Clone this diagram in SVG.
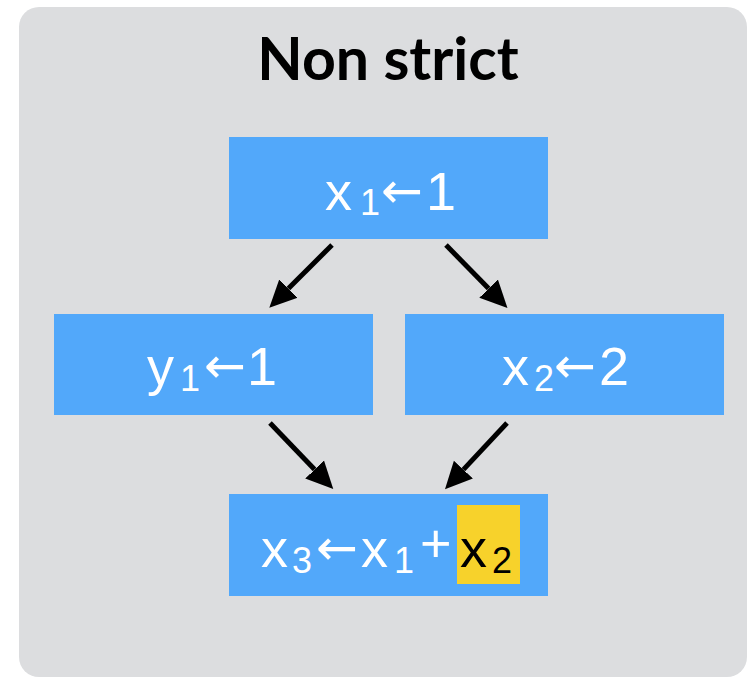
<svg xmlns="http://www.w3.org/2000/svg" width="747" height="677" viewBox="0 0 747 677">
<defs>
<style>
.node{fill:#52A8FA}
.t{font-family:"Liberation Sans",Arial,sans-serif;fill:#fff;font-size:54px}
.s{font-size:36px}
.a{font-family:"DejaVu Sans",sans-serif;font-size:50px}
.edge{stroke:#000;stroke-width:5;fill:none}
</style>
<marker id="ah" markerUnits="userSpaceOnUse" markerWidth="28" markerHeight="28" refX="0" refY="13" orient="auto" viewBox="0 0 28 26">
<path d="M0,0 L27,13 L0,26 z" fill="#000"/>
</marker>
</defs>
<rect x="19" y="7" width="728" height="670" rx="20" fill="#DCDDDF"/>
<text x="388" y="80" text-anchor="middle" font-family="Lato,'Liberation Sans',sans-serif" font-weight="bold" font-size="59" fill="#000">Non strict</text>
<g id="n1">
<rect class="node" x="229" y="137" width="319" height="102"/>
<text class="t" y="210"><tspan x="325">x</tspan><tspan class="s" x="360" y="215">1</tspan><tspan class="a" x="381" y="208">←</tspan><tspan x="426" y="210">1</tspan></text>
</g>
<g id="n2">
<rect class="node" x="54" y="314" width="319" height="101"/>
<text class="t" y="385"><tspan x="147">y</tspan><tspan class="s" x="180" y="391">1</tspan><tspan class="a" x="204" y="383">←</tspan><tspan x="247" y="385">1</tspan></text>
</g>
<g id="n3">
<rect class="node" x="405" y="314" width="319" height="101"/>
<text class="t" y="385"><tspan x="502">x</tspan><tspan class="s" x="534" y="391">2</tspan><tspan class="a" x="554" y="383">←</tspan><tspan x="599" y="385">2</tspan></text>
</g>
<g id="n4">
<rect class="node" x="229" y="494" width="319" height="102"/>
<rect x="457" y="505" width="63" height="79" fill="#F7D22B"/>
<text class="t" y="567"><tspan x="261">x</tspan><tspan class="s" x="292" y="573">3</tspan><tspan class="a" x="316" y="565">←</tspan><tspan x="361" y="567">x</tspan><tspan class="s" x="394" y="573">1</tspan><tspan x="420" y="562">+</tspan><tspan x="460" y="567" fill="#000">x</tspan><tspan class="s" x="492" y="573" fill="#000">2</tspan></text>
</g>
<g id="edges">
<line class="edge" x1="332" y1="245" x2="288.4" y2="288.6" marker-end="url(#ah)"/>
<line class="edge" x1="446" y1="245" x2="488.6" y2="288.6" marker-end="url(#ah)"/>
<line class="edge" x1="270" y1="423" x2="314.6" y2="469.6" marker-end="url(#ah)"/>
<line class="edge" x1="507" y1="423" x2="463.4" y2="469.6" marker-end="url(#ah)"/>
</g>
</svg>
